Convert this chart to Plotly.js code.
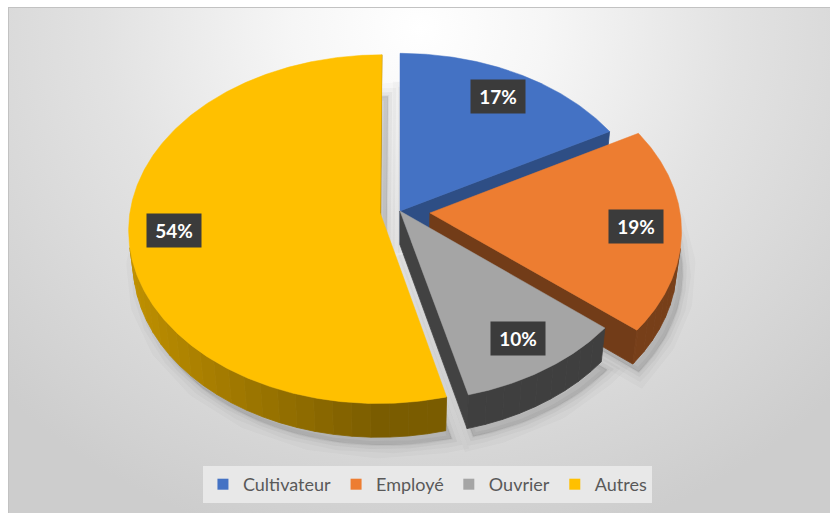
<!DOCTYPE html>
<html>
<head>
<meta charset="utf-8">
<script src="https://cdn.plot.ly/plotly-3.0.1.min.js"></script>
<style>
  html, body { margin: 0; padding: 0; background: #ffffff; }
  #frame {
    position: absolute; left: 8px; top: 7px; width: 822px; height: 506px;
    box-sizing: border-box; border-top: 1px solid #c2c2c2; border-left: 1px solid #c2c2c2;
    background: radial-gradient(ellipse 70% 105% at 50% 4%, #ffffff 0%, #f6f6f6 22%, #e2e2e2 55%, #cdcdcd 100%);
  }
  #chart { position: absolute; left: 0; top: 0; width: 830px; height: 513px; }
</style>
</head>
<body>
<div id="frame"></div>
<div id="chart"></div>
<script>
// Répartition par profession
const categories = ['Cultivateur', 'Employé', 'Ouvrier', 'Autres'];
const values = [17, 19, 10, 54];
const sliceColors = ['#4472C4', '#ED7D31', '#A5A5A5', '#FFC000'];
// how far each slice is pulled out, as a fraction of the radius
const pull = [0, 0.12, 0, 0.08];

// 3D view of the pie: a disc seen from above with a little perspective
const CX = 400, CY = 211;      // centre of the disc top, in plot units (px)
const RADIUS = 250;            // horizontal radius
const TILT = Math.asin(0.69);  // elevation of the eye
const PERSP = 0.13;            // perspective strength
const DEPTH = 0.19;            // thickness of the disc
const SA = Math.sin(TILT), CA = Math.cos(TILT);

// shading factors for the walls of each slice
const wallBase = [0.6, 0.5, 0.38, 0.48];
const faceShade = [0.68, 0.48, 0.4, 0.7];

function project(u, v, h) {
  const Y = v * SA + h * CA;
  const Z = 1 + PERSP * (v * CA - h * SA);
  return [CX + RADIUS * u / Z, CY - RADIUS * Y / Z];
}

function shade(hex, f) {
  const n = parseInt(hex.slice(1), 16);
  const c = [(n >> 16) & 255, (n >> 8) & 255, n & 255].map(x => Math.max(0, Math.min(255, Math.round(x * f))));
  return 'rgb(' + c.join(',') + ')';
}

function polygon(pts, color, extra) {
  return Object.assign({
    type: 'scatter', mode: 'lines',
    x: pts.map(p => p[0]), y: pts.map(p => p[1]),
    fill: 'toself', fillcolor: color,
    line: { color: color, width: 0.8 },
    hoverinfo: 'skip', showlegend: false
  }, extra || {});
}

const total = values.reduce((a, b) => a + b, 0);
let acc = 0;
const slices = values.map((val, i) => {
  const a0 = acc / total * 2 * Math.PI;
  acc += val;
  const a1 = acc / total * 2 * Math.PI;
  const mid = (a0 + a1) / 2;
  return { i, val, a0, a1, mid, ou: pull[i] * Math.sin(mid), ov: pull[i] * Math.cos(mid) };
});

// eye position in disc coordinates
const eye = [0, -CA / PERSP, SA / PERSP];
const STEP = Math.PI / 360;

function arcAngles(a0, a1) {
  const n = Math.max(2, Math.ceil((a1 - a0) / STEP));
  const out = [];
  for (let k = 0; k <= n; k++) out.push(a0 + (a1 - a0) * k / n);
  return out;
}

function rim(s, t, h) {
  return project(s.ou + Math.sin(t), s.ov + Math.cos(t), h);
}

const traces = [];

// soft shadow under the pie
const shadowLayers = [
  { w: 26, a: 0.025 }, { w: 16, a: 0.035 }, { w: 8, a: 0.05 }, { w: 2, a: 0.06 }
];
shadowLayers.forEach(L => {
  slices.forEach(s => {
    const pts = [project(s.ou, s.ov, -DEPTH)];
    arcAngles(s.a0, s.a1).forEach(t => pts.push(rim(s, t, -DEPTH)));
    pts.push(pts[0]);
    const shifted = pts.map(p => [p[0] + 6, p[1] + 8]);
    traces.push(polygon(shifted, 'rgba(60,60,60,' + L.a + ')', {
      line: { color: 'rgba(60,60,60,' + L.a + ')', width: L.w }
    }));
  });
});

// slices drawn from the back to the front
const order = slices.slice().sort((a, b) => Math.cos(b.mid) - Math.cos(a.mid));
order.forEach(s => {
  const col = sliceColors[s.i];
  const O = [s.ou, s.ov];
  // radial walls that face the eye
  const edges = [
    { t: s.a0, n: [-Math.cos(s.a0), Math.sin(s.a0)] },
    { t: s.a1, n: [Math.cos(s.a1), -Math.sin(s.a1)] }
  ];
  edges.forEach(e => {
    const d = e.n[0] * (eye[0] - O[0]) + e.n[1] * (eye[1] - O[1]);
    if (d > 0) {
      const pts = [project(O[0], O[1], 0), rim(s, e.t, 0), rim(s, e.t, -DEPTH), project(O[0], O[1], -DEPTH)];
      pts.push(pts[0]);
      traces.push(polygon(pts, shade(col, faceShade[s.i])));
    }
  });
  // outer curved wall, in short strips so the shading can vary
  const ang = arcAngles(s.a0, s.a1);
  const vis = ang.map(t => -s.ou * Math.sin(t) - s.ov * Math.cos(t) - 1 - Math.cos(t) * CA / PERSP > 0);
  const CH = 8;
  for (let k = 0; k < ang.length - 1; k += CH) {
    const idx = [];
    for (let j = k; j <= Math.min(k + CH, ang.length - 1); j++) if (vis[j]) idx.push(j);
    if (idx.length < 2) continue;
    const top = idx.map(j => rim(s, ang[j], 0));
    const bot = idx.map(j => rim(s, ang[j], -DEPTH)).reverse();
    const pts = top.concat(bot);
    pts.push(pts[0]);
    const tm = ang[idx[Math.floor(idx.length / 2)]];
    const f = wallBase[s.i] + 0.28 * Math.max(0, -Math.sin(tm));
    traces.push(polygon(pts, shade(col, f)));
  }
  // top face
  const topPts = [project(O[0], O[1], 0)];
  ang.forEach(t => topPts.push(rim(s, t, 0)));
  topPts.push(topPts[0]);
  traces.push(polygon(topPts, col, { line: { color: col, width: 0.5 } }));
});

// legend entries
categories.forEach((c, i) => {
  traces.push({
    type: 'scatter', mode: 'markers', x: [null], y: [null], name: c,
    marker: { symbol: 'square', size: 11, color: sliceColors[i] },
    hoverinfo: 'skip', showlegend: true
  });
});

// percentage labels on the slices
const LABEL_R = 0.82;
const annotations = [];
slices.forEach(s => {
  const p = project(s.ou + LABEL_R * Math.sin(s.mid), s.ov + LABEL_R * Math.cos(s.mid), 0);
  const txt = Math.round(100 * s.val / total) + '%';
  annotations.push({
    x: p[0], y: p[1], xref: 'x', yref: 'y', showarrow: false,
    text: '<b>' + txt + '</b>', font: { family: 'Lato', size: 19, color: '#ffffff' },
    bgcolor: '#3b3b3b', borderpad: 5, width: 44
  });
});

const layout = {
  width: 830, height: 513,
  margin: { l: 0, r: 0, t: 0, b: 0 },
  paper_bgcolor: 'rgba(0,0,0,0)', plot_bgcolor: 'rgba(0,0,0,0)',
  xaxis: { range: [0, 830], visible: false, fixedrange: true },
  yaxis: { range: [513, 0], visible: false, fixedrange: true },
  showlegend: true,
  legend: {
    orientation: 'h', x: 0.515, xanchor: 'center', y: 1 - 466 / 513, yanchor: 'top',
    bgcolor: '#e8e8e8', font: { family: 'Lato', size: 18, color: '#595959' },
    itemwidth: 30, traceorder: 'normal'
  },
  annotations: annotations
};

Plotly.newPlot('chart', traces, layout, { staticPlot: true, displayModeBar: false });
</script>
</body>
</html>
